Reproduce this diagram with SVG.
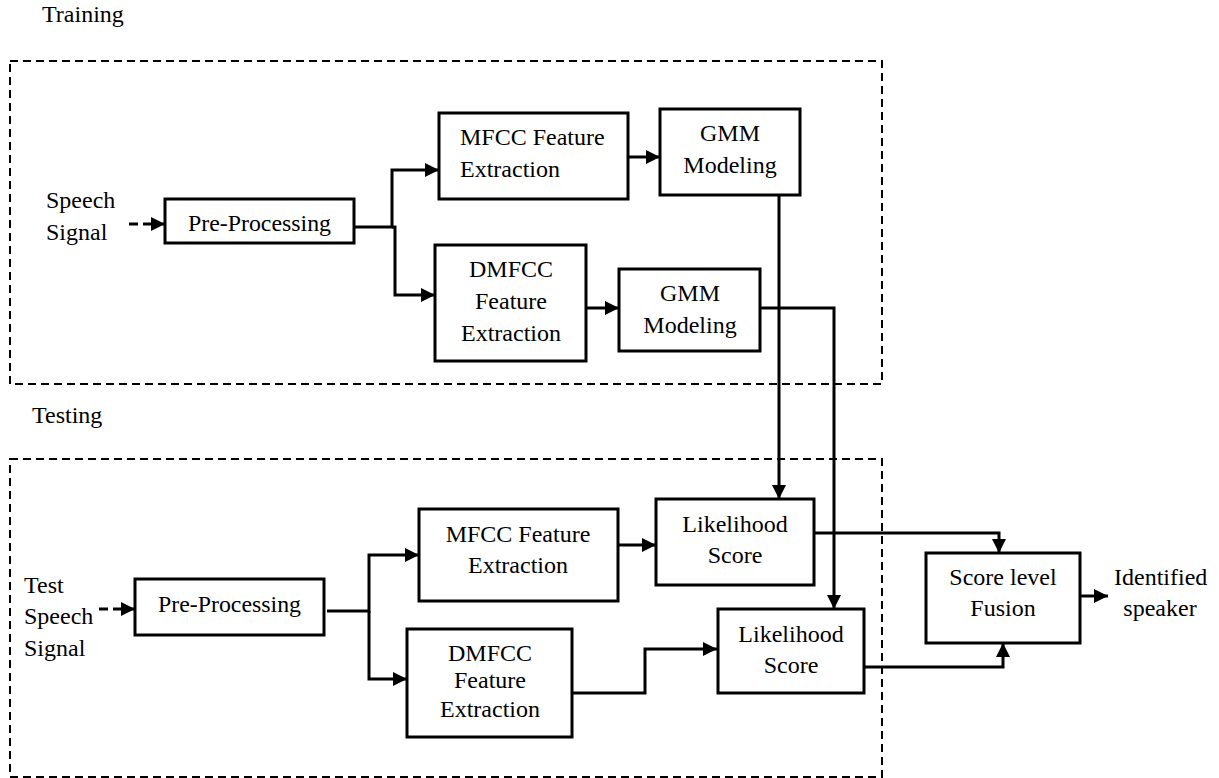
<svg xmlns="http://www.w3.org/2000/svg" width="1219" height="778" viewBox="0 0 1219 778">
<style>
text{font-family:"Liberation Serif","Times New Roman",serif;font-size:24px;fill:#000}
.box{fill:#fff;stroke:#000;stroke-width:3}
.frame{fill:none;stroke:#000;stroke-width:2;stroke-dasharray:8,5}
.c{fill:none;stroke:#000;stroke-width:3;marker-end:url(#ah)}
.cn{fill:none;stroke:#000;stroke-width:3}
.d{fill:none;stroke:#000;stroke-width:3;stroke-dasharray:9,5;marker-end:url(#ah)}
.m{text-anchor:middle}
</style>
<defs>
<marker id="ah" viewBox="0 0 10 10" refX="10" refY="5" markerUnits="userSpaceOnUse" markerWidth="15" markerHeight="14" orient="auto">
<path d="M0,0 L10,5 L0,10 z" fill="#000"/>
</marker>
</defs>
<g id="frames">
<rect class="frame" x="10" y="61" width="872" height="323"/>
<rect class="frame" x="10" y="459" width="872" height="318"/>
</g>
<g id="labels">
<text x="42" y="22">Training</text>
<text x="32" y="423">Testing</text>
<text x="46" y="208">Speech</text>
<text x="46" y="240">Signal</text>
<text x="24" y="593">Test</text>
<text x="24" y="624">Speech</text>
<text x="24" y="656">Signal</text>
<text x="1114" y="585">Identified</text>
<text x="1160" y="616" class="m">speaker</text>
</g>
<g id="connectors">
<path class="d" d="M129,224 H165"/>
<path class="c" d="M354,227 H392 V170 H439"/>
<path class="c" d="M392,227 H395 V295 H435"/>
<path class="c" d="M628,157 H660"/>
<path class="c" d="M586,308 H619"/>
<path class="c" d="M779,195 V499"/>
<path class="c" d="M760,308 H834 V609"/>
<path class="d" d="M99,609 H135"/>
<path class="c" d="M327,611 H369 V555 H419"/>
<path class="c" d="M369,611 V679 H407"/>
<path class="c" d="M618,545 H656"/>
<path class="c" d="M572,693 H645 V649 H717"/>
<path class="c" d="M814,533 H999 V553"/>
<path class="c" d="M862,667 H1003 V643"/>
<path class="c" d="M1080,596 H1108"/>
</g>
<g id="pp1">
<rect class="box" x="165" y="199" width="189" height="44"/>
<text x="188" y="231" textLength="143" lengthAdjust="spacingAndGlyphs">Pre-Processing</text>
</g>
<g id="mfcc1">
<rect class="box" x="439" y="113" width="189" height="86"/>
<text x="460" y="145">MFCC Feature</text>
<text x="460" y="177">Extraction</text>
</g>
<g id="gmm1">
<rect class="box" x="660" y="109" width="140" height="86"/>
<text x="730" y="141" class="m">GMM</text>
<text x="730" y="173" class="m">Modeling</text>
</g>
<g id="dmfcc1">
<rect class="box" x="435" y="245" width="151" height="116"/>
<text x="511" y="277" class="m">DMFCC</text>
<text x="511" y="309" class="m">Feature</text>
<text x="511" y="341" class="m">Extraction</text>
</g>
<g id="gmm2">
<rect class="box" x="619" y="269" width="141" height="82"/>
<text x="690" y="301" class="m">GMM</text>
<text x="690" y="333" class="m">Modeling</text>
</g>
<g id="pp2">
<rect class="box" x="135" y="579" width="189" height="56"/>
<text x="158" y="612" textLength="143" lengthAdjust="spacingAndGlyphs">Pre-Processing</text>
</g>
<g id="mfcc2">
<rect class="box" x="419" y="509" width="199" height="92"/>
<text x="518" y="542" class="m">MFCC Feature</text>
<text x="518" y="573" class="m">Extraction</text>
</g>
<g id="ls1">
<rect class="box" x="656" y="499" width="158" height="86"/>
<text x="735" y="532" class="m">Likelihood</text>
<text x="735" y="563" class="m">Score</text>
</g>
<g id="dmfcc2">
<rect class="box" x="407" y="629" width="165" height="108"/>
<text x="490" y="661" class="m">DMFCC</text>
<text x="490" y="688" class="m">Feature</text>
<text x="490" y="717" class="m">Extraction</text>
</g>
<g id="ls2">
<rect class="box" x="718" y="609" width="146" height="84"/>
<text x="791" y="642" class="m">Likelihood</text>
<text x="791" y="673" class="m">Score</text>
</g>
<g id="fusion">
<rect class="box" x="926" y="553" width="154" height="90"/>
<text x="1003" y="585" class="m">Score level</text>
<text x="1003" y="616" class="m">Fusion</text>
</g>
</svg>
